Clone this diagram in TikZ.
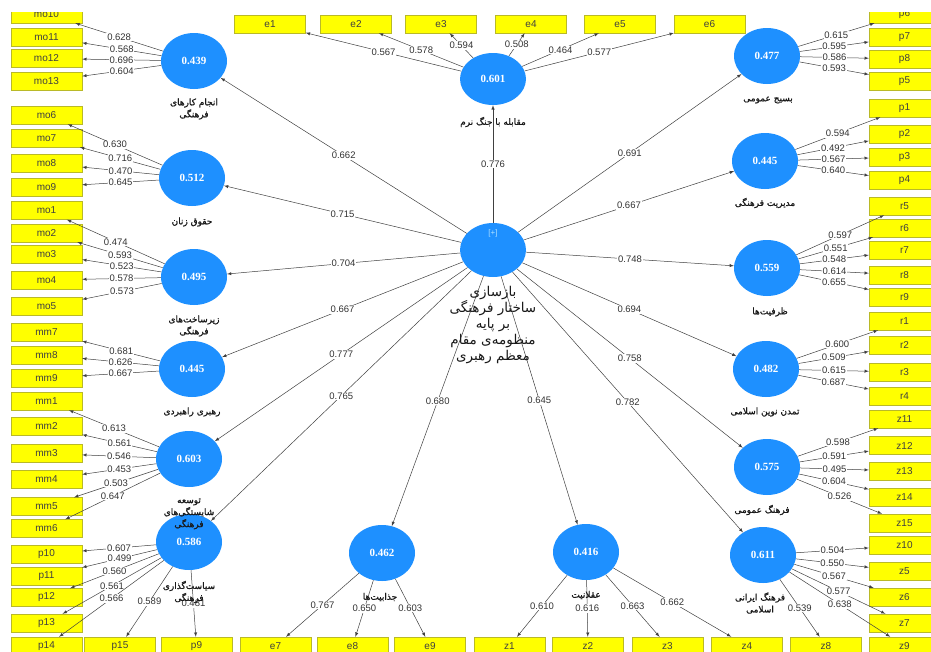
\documentclass[tikz,border=0pt]{standalone}
\usepackage{fontspec}
\setmainfont{Liberation Sans}
\newfontfamily\valfont{Liberation Serif}
\newfontfamily\farsi[Script=Arabic,FakeBold=1]{DejaVu Sans}
\newfontfamily\farsilt[Script=Arabic]{DejaVu Sans}
\usetikzlibrary{shapes.geometric}
\TeXXeTstate=1
\newcommand\fatxt[1]{\beginR#1\endR}
\definecolor{boxyellow}{RGB}{255,255,0}
\definecolor{boxedge}{RGB}{185,185,40}
\definecolor{latblue}{RGB}{30,144,255}
\definecolor{plusblue}{RGB}{175,225,255}
\tikzset{
  ind/.style={draw=boxedge, fill=boxyellow, minimum width=71pt, minimum height=18pt, inner sep=0pt, text=black!75, font=\fontsize{10}{10}\selectfont},
  lat/.style={ellipse, fill=latblue, minimum width=66pt, minimum height=56pt, inner sep=0pt, text=white, font=\valfont\bfseries\fontsize{11}{11}\selectfont},
  conn/.style={draw=black!75, line width=.5pt, -latex},
  load/.style={midway, fill=white, inner sep=.8pt, text=black!80, font=\fontsize{9.5}{9.5}\selectfont},
  lvname/.style={align=center, inner sep=0pt, text=black!90, font=\farsi\fontsize{9}{12}\selectfont}
}
\begin{document}
\begin{tikzpicture}[x=1pt,y=-1pt]
\useasboundingbox (0,0) rectangle (931,651);
\clip (0,12) rectangle (931,651);
% indicators, left column
\node[ind] (mo10) at (46.5,14) {mo10};
\node[ind] (mo11) at (46.5,37) {mo11};
\node[ind] (mo12) at (46.5,58.5) {mo12};
\node[ind] (mo13) at (46.5,81) {mo13};
\node[ind] (mo6) at (46.5,115) {mo6};
\node[ind] (mo7) at (46.5,138) {mo7};
\node[ind] (mo8) at (46.5,163.5) {mo8};
\node[ind] (mo9) at (46.5,187) {mo9};
\node[ind] (mo1) at (46.5,210.5) {mo1};
\node[ind] (mo2) at (46.5,233) {mo2};
\node[ind] (mo3) at (46.5,254) {mo3};
\node[ind] (mo4) at (46.5,280) {mo4};
\node[ind] (mo5) at (46.5,306.5) {mo5};
\node[ind] (mm7) at (46.5,332) {mm7};
\node[ind] (mm8) at (46.5,355) {mm8};
\node[ind] (mm9) at (46.5,378) {mm9};
\node[ind] (mm1) at (46.5,401) {mm1};
\node[ind] (mm2) at (46.5,426.5) {mm2};
\node[ind] (mm3) at (46.5,453.5) {mm3};
\node[ind] (mm4) at (46.5,479.5) {mm4};
\node[ind] (mm5) at (46.5,506.5) {mm5};
\node[ind] (mm6) at (46.5,528.5) {mm6};
\node[ind] (p10) at (46.5,554) {p10};
\node[ind] (p11) at (46.5,576) {p11};
\node[ind] (p12) at (46.5,597.5) {p12};
\node[ind] (p13) at (46.5,623) {p13};
% bottom row
\node[ind] (p14) at (46.5,646) {p14};
\node[ind] (p15) at (120,646) {p15};
\node[ind] (p9) at (196.5,646) {p9};
\node[ind] (e7) at (275.5,646) {e7};
\node[ind] (e8) at (352.5,646) {e8};
\node[ind] (e9) at (430,646) {e9};
\node[ind] (z1) at (509.5,646) {z1};
\node[ind] (z2) at (588,646) {z2};
\node[ind] (z3) at (667.5,646) {z3};
\node[ind] (z4) at (747,646) {z4};
\node[ind] (z8) at (826,646) {z8};
\node[ind] (z9) at (904.5,646) {z9};
% top row
\node[ind] (e1) at (270,24) {e1};
\node[ind] (e2) at (356,24) {e2};
\node[ind] (e3) at (441,24) {e3};
\node[ind] (e4) at (531,24) {e4};
\node[ind] (e5) at (620,24) {e5};
\node[ind] (e6) at (709.5,24) {e6};
% right column
\node[ind] (p6) at (904.5,14) {p6};
\node[ind] (p7) at (904.5,37) {p7};
\node[ind] (p8) at (904.5,59) {p8};
\node[ind] (p5) at (904.5,81) {p5};
\node[ind] (p1) at (904.5,108) {p1};
\node[ind] (p2) at (904.5,134) {p2};
\node[ind] (p3) at (904.5,157) {p3};
\node[ind] (p4) at (904.5,180.5) {p4};
\node[ind] (r5) at (904.5,206) {r5};
\node[ind] (r6) at (904.5,228) {r6};
\node[ind] (r7) at (904.5,250.5) {r7};
\node[ind] (r8) at (904.5,275) {r8};
\node[ind] (r9) at (904.5,297) {r9};
\node[ind] (r1) at (904.5,321) {r1};
\node[ind] (r2) at (904.5,345.5) {r2};
\node[ind] (r3) at (904.5,372) {r3};
\node[ind] (r4) at (904.5,396) {r4};
\node[ind] (z11) at (904.5,419) {z11};
\node[ind] (z12) at (904.5,445.5) {z12};
\node[ind] (z13) at (904.5,471) {z13};
\node[ind] (z14) at (904.5,497) {z14};
\node[ind] (z15) at (904.5,523) {z15};
\node[ind] (z10) at (904.5,545.5) {z10};
\node[ind] (z5) at (904.5,571.5) {z5};
\node[ind] (z6) at (904.5,597) {z6};
\node[ind] (z7) at (904.5,623) {z7};
% latent variables
\node[lat, minimum height=54pt] (c) at (493,250) {};
\node[text=plusblue, font=\fontsize{8}{8}\selectfont] (cplus) at (493,233) {[+]};
\node[lat] (kar) at (194,61) {0.439};
\node[lat] (zan) at (192,178) {0.512};
\node[lat] (zir) at (194,277) {0.495};
\node[lat] (rah) at (192,369) {0.445};
\node[lat] (tos) at (189,459) {0.603};
\node[lat] (sia) at (189,542) {0.586};
\node[lat, minimum height=52pt] (jang) at (493,79) {0.601};
\node[lat] (basij) at (767,56) {0.477};
\node[lat] (mod) at (765,161) {0.445};
\node[lat] (zarf) at (767,268) {0.559};
\node[lat] (tam) at (766,369) {0.482};
\node[lat] (fom) at (767,467) {0.575};
\node[lat] (fir) at (763,555) {0.611};
\node[lat] (jaz) at (382,553) {0.462};
\node[lat] (agh) at (586,552) {0.416};
% structural paths
\draw[conn] (c) -- (kar) node[load]{0.662};
\draw[conn] (c) -- (zan) node[load]{0.715};
\draw[conn] (c) -- (zir) node[load]{0.704};
\draw[conn] (c) -- (rah) node[load]{0.667};
\draw[conn] (c) -- (tos) node[load]{0.777};
\draw[conn] (c) -- (sia) node[load]{0.765};
\draw[conn] (c) -- (jaz) node[load]{0.680};
\draw[conn] (c) -- (agh) node[load]{0.645};
\draw[conn] (c) -- (fir) node[load]{0.782};
\draw[conn] (c) -- (fom) node[load]{0.758};
\draw[conn] (c) -- (tam) node[load]{0.694};
\draw[conn] (c) -- (zarf) node[load]{0.748};
\draw[conn] (c) -- (mod) node[load]{0.667};
\draw[conn] (c) -- (basij) node[load]{0.691};
\draw[conn] (c) -- (jang) node[load]{0.776};
% loadings
\draw[conn] (kar) -- (mo10) node[load]{0.628};
\draw[conn] (kar) -- (mo11) node[load]{0.568};
\draw[conn] (kar) -- (mo12) node[load]{0.696};
\draw[conn] (kar) -- (mo13) node[load]{0.604};
\draw[conn] (zan) -- (mo6) node[load]{0.630};
\draw[conn] (zan) -- (mo7) node[load]{0.716};
\draw[conn] (zan) -- (mo8) node[load]{0.470};
\draw[conn] (zan) -- (mo9) node[load]{0.645};
\draw[conn] (zir) -- (mo1) node[load]{0.474};
\draw[conn] (zir) -- (mo2) node[load]{0.593};
\draw[conn] (zir) -- (mo3) node[load]{0.523};
\draw[conn] (zir) -- (mo4) node[load]{0.578};
\draw[conn] (zir) -- (mo5) node[load]{0.573};
\draw[conn] (rah) -- (mm7) node[load]{0.681};
\draw[conn] (rah) -- (mm8) node[load]{0.626};
\draw[conn] (rah) -- (mm9) node[load]{0.667};
\draw[conn] (tos) -- (mm1) node[load]{0.613};
\draw[conn] (tos) -- (mm2) node[load]{0.561};
\draw[conn] (tos) -- (mm3) node[load]{0.546};
\draw[conn] (tos) -- (mm4) node[load]{0.453};
\draw[conn] (tos) -- (mm5) node[load]{0.503};
\draw[conn] (tos) -- (mm6) node[load]{0.647};
\draw[conn] (sia) -- (p10) node[load]{0.607};
\draw[conn] (sia) -- (p11) node[load]{0.499};
\draw[conn] (sia) -- (p12) node[load]{0.560};
\draw[conn] (sia) -- (p13) node[load]{0.561};
\draw[conn] (sia) -- (p14) node[load]{0.566};
\draw[conn] (sia) -- (p15) node[load]{0.589};
\draw[conn] (sia) -- (p9) node[load]{0.481};
\draw[conn] (jang) -- (e1) node[load]{0.567};
\draw[conn] (jang) -- (e2) node[load]{0.578};
\draw[conn] (jang) -- (e3) node[load]{0.594};
\draw[conn] (jang) -- (e4) node[load]{0.508};
\draw[conn] (jang) -- (e5) node[load]{0.464};
\draw[conn] (jang) -- (e6) node[load]{0.577};
\draw[conn] (basij) -- (p6) node[load]{0.615};
\draw[conn] (basij) -- (p7) node[load]{0.595};
\draw[conn] (basij) -- (p8) node[load]{0.586};
\draw[conn] (basij) -- (p5) node[load]{0.593};
\draw[conn] (mod) -- (p1) node[load]{0.594};
\draw[conn] (mod) -- (p2) node[load]{0.492};
\draw[conn] (mod) -- (p3) node[load]{0.567};
\draw[conn] (mod) -- (p4) node[load]{0.640};
\draw[conn] (zarf) -- (r5) node[load]{0.597};
\draw[conn] (zarf) -- (r6) node[load]{0.551};
\draw[conn] (zarf) -- (r7) node[load]{0.548};
\draw[conn] (zarf) -- (r8) node[load]{0.614};
\draw[conn] (zarf) -- (r9) node[load]{0.655};
\draw[conn] (tam) -- (r1) node[load]{0.600};
\draw[conn] (tam) -- (r2) node[load]{0.509};
\draw[conn] (tam) -- (r3) node[load]{0.615};
\draw[conn] (tam) -- (r4) node[load]{0.687};
\draw[conn] (fom) -- (z11) node[load]{0.598};
\draw[conn] (fom) -- (z12) node[load]{0.591};
\draw[conn] (fom) -- (z13) node[load]{0.495};
\draw[conn] (fom) -- (z14) node[load]{0.604};
\draw[conn] (fom) -- (z15) node[load]{0.526};
\draw[conn] (fir) -- (z10) node[load]{0.504};
\draw[conn] (fir) -- (z5) node[load]{0.550};
\draw[conn] (fir) -- (z6) node[load]{0.567};
\draw[conn] (fir) -- (z7) node[load]{0.577};
\draw[conn] (fir) -- (z9) node[load]{0.638};
\draw[conn] (fir) -- (z8) node[load]{0.539};
\draw[conn] (jaz) -- (e7) node[load]{0.767};
\draw[conn] (jaz) -- (e8) node[load]{0.650};
\draw[conn] (jaz) -- (e9) node[load]{0.603};
\draw[conn] (agh) -- (z1) node[load]{0.610};
\draw[conn] (agh) -- (z2) node[load]{0.616};
\draw[conn] (agh) -- (z3) node[load]{0.663};
\draw[conn] (agh) -- (z4) node[load]{0.662};
% construct names
\node[lvname] (kar-n) at (194,109) {\fatxt{انجام کارهای}\\\fatxt{فرهنگی}};
\node[lvname] (zan-n) at (192,222) {\fatxt{حقوق زنان}};
\node[lvname] (zir-n) at (194,326) {\fatxt{زیرساخت‌های}\\\fatxt{فرهنگی}};
\node[lvname] (rah-n) at (192,412) {\fatxt{رهبری راهبردی}};
\node[lvname] (tos-n) at (189,514) {\fatxt{توسعه}\\\fatxt{شایستگی‌های}\\\fatxt{فرهنگی}};
\node[lvname] (sia-n) at (189,592) {\fatxt{سیاست‌گذاری}\\\fatxt{فرهنگی}};
\node[lvname] (jang-n) at (493,122) {\fatxt{مقابله با جنگ نرم}};
\node[lvname] (basij-n) at (768,100) {\fatxt{بسیج عمومی}};
\node[lvname] (mod-n) at (765,203) {\fatxt{مدیریت فرهنگی}};
\node[lvname] (zarf-n) at (770,312) {\fatxt{ظرفیت‌ها}};
\node[lvname] (tam-n) at (765,412) {\fatxt{تمدن نوین اسلامی}};
\node[lvname] (fom-n) at (762,510) {\fatxt{فرهنگ عمومی}};
\node[lvname] (fir-n) at (760,603) {\fatxt{فرهنگ ایرانی}\\\fatxt{اسلامی}};
\node[lvname] (jaz-n) at (380,597) {\fatxt{جذابیت‌ها}};
\node[lvname] (agh-n) at (586,595) {\fatxt{عقلانیت}};
\node[lvname, font=\farsilt\fontsize{13.5}{16}\selectfont] (c-n) at (493,325) {\fatxt{بازسازی}\\\fatxt{ساختار فرهنگی}\\\fatxt{بر پایه}\\\fatxt{منظومه‌ی مقام}\\\fatxt{معظم رهبری}};
\end{tikzpicture}
\end{document}
